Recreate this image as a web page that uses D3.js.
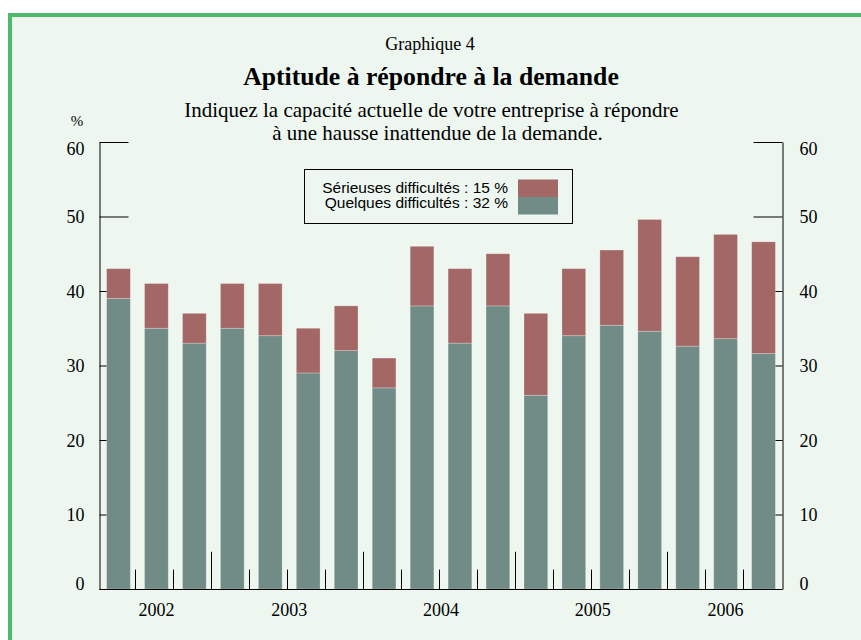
<!DOCTYPE html>
<html>
<head>
<meta charset="utf-8">
<script src="https://cdn.jsdelivr.net/npm/d3@7"></script>
<style>
  body { margin: 0; background: #ffffff; }
</style>
</head>
<body>
<svg id="chart"></svg>
<script>
// trimestres, de 2002T2 a 2006T3
const quarters = ["2002T2","2002T3","2002T4",
                  "2003T1","2003T2","2003T3","2003T4",
                  "2004T1","2004T2","2004T3","2004T4",
                  "2005T1","2005T2","2005T3","2005T4",
                  "2006T1","2006T2","2006T3"];
const quelques  = [39, 35, 33, 35, 34, 29, 32, 27, 38, 33, 38, 26, 34, 35.4, 34.6, 32.6, 33.6, 31.6];
const serieuses = [ 4,  6,  4,  6,  7,  6,  6,  4,  8, 10,  7, 11,  9, 10.1, 15,   12,   14,   15];
const years = ["2002","2003","2004","2005","2006"];
const yTicks = [0, 10, 20, 30, 40, 50, 60];
const legendLabels = ["Sérieuses difficultés : 15 %", "Quelques difficultés : 32 %"];

const colRed = "#a36866";
const colTeal = "#718b87";

const width = 861, height = 640;

const svg = d3.select("#chart")
    .attr("width", width)
    .attr("height", height);

// cadre vert
svg.append("rect")
    .attr("x", 10).attr("y", 15)
    .attr("width", 900).attr("height", 700)
    .attr("fill", "#edf7f0")
    .attr("stroke", "#4dba6b")
    .attr("stroke-width", 4);

const x = d3.scaleBand()
    .domain(quarters)
    .range([99.5, 782.5])
    .paddingInner(0.375)
    .paddingOuter(0.1875);

const y = d3.scaleLinear()
    .domain([0, 60])
    .range([589, 142]);

// titres
const serif = "'Liberation Serif', 'Times New Roman', serif";
svg.append("text").attr("x", 430).attr("y", 50)
    .attr("text-anchor", "middle").attr("font-family", serif).attr("font-size", 18)
    .text("Graphique 4");
svg.append("text").attr("x", 431).attr("y", 85)
    .attr("text-anchor", "middle").attr("font-family", serif).attr("font-size", 25.7)
    .attr("font-weight", "bold")
    .text("Aptitude à répondre à la demande");
svg.append("text").attr("x", 431.5).attr("y", 116.5)
    .attr("text-anchor", "middle").attr("font-family", serif).attr("font-size", 21)
    .text("Indiquez la capacité actuelle de votre entreprise à répondre");
svg.append("text").attr("x", 437.5).attr("y", 139.5)
    .attr("text-anchor", "middle").attr("font-family", serif).attr("font-size", 21)
    .text("à une hausse inattendue de la demande.");
svg.append("text").attr("x", 77).attr("y", 126)
    .attr("text-anchor", "middle").attr("font-family", serif).attr("font-size", 15)
    .text("%");

// axes verticaux
function styleAxis(g) {
    g.attr("font-family", serif).attr("font-size", 18);
    g.selectAll("text").attr("fill", "#000")
        .attr("dy", d => d === 60 ? "0.68em" : (d === 0 ? "0em" : "0.34em"));
    g.selectAll("line").attr("stroke", "#000");
    g.select(".domain").attr("stroke", "#000");
}

svg.append("g")
    .attr("transform", "translate(99.5,0)")
    .call(d3.axisLeft(y).tickValues(yTicks).tickSize(-29).tickSizeOuter(0).tickPadding(15))
    .call(styleAxis);

svg.append("g")
    .attr("transform", "translate(782.5,0)")
    .call(d3.axisRight(y).tickValues(yTicks).tickSize(-29).tickSizeOuter(0).tickPadding(17))
    .call(styleAxis);

// barres empilees
const stackData = quarters.map((q, i) => ({q: q, quelques: quelques[i], serieuses: serieuses[i]}));
const series = d3.stack().keys(["quelques", "serieuses"])(stackData);
const colors = {quelques: colTeal, serieuses: colRed};

svg.append("g")
    .selectAll("g")
    .data(series)
    .join("g")
    .attr("fill", d => colors[d.key])
    .selectAll("rect")
    .data(d => d)
    .join("rect")
    .attr("x", d => x(d.data.q))
    .attr("y", d => y(d[1]))
    .attr("width", x.bandwidth())
    .attr("height", d => y(d[0]) - y(d[1]))
    .attr("stroke", "#ffffff")
    .attr("stroke-opacity", 0.3)
    .attr("stroke-width", 0.8);

// axe horizontal
svg.append("line")
    .attr("x1", 99.5).attr("x2", 782.5)
    .attr("y1", y(0) + 0.5).attr("y2", y(0) + 0.5)
    .attr("stroke", "#000");

// graduations trimestrielles et annuelles
const boundaries = quarters.slice(1);
svg.append("g")
    .selectAll("line")
    .data(boundaries)
    .join("line")
    .attr("x1", d => Math.round(x(d) - x.step() * x.paddingInner() / 2) - 1.5)
    .attr("x2", d => Math.round(x(d) - x.step() * x.paddingInner() / 2) - 1.5)
    .attr("y1", y(0))
    .attr("y2", d => d.endsWith("T1") ? y(5) : y(2.6))
    .attr("stroke", "#000");

svg.append("g")
    .selectAll("text")
    .data(years)
    .join("text")
    .attr("x", yr => d3.mean(quarters.filter(q => q.startsWith(yr)), q => x(q) + x.bandwidth() / 2))
    .attr("y", 616)
    .attr("text-anchor", "middle")
    .attr("font-family", serif)
    .attr("font-size", 18)
    .text(d => d);

// legende
const legend = svg.append("g");
legend.append("rect")
    .attr("x", 304.5).attr("y", 169.5)
    .attr("width", 268).attr("height", 54)
    .attr("fill", "none").attr("stroke", "#000");
const legendColors = [colRed, colTeal];
legend.selectAll("text")
    .data(legendLabels)
    .join("text")
    .attr("x", 508)
    .attr("y", (d, i) => 192.5 + i * 15.5)
    .attr("text-anchor", "end")
    .attr("font-family", "'Liberation Sans', Arial, sans-serif")
    .attr("font-size", 15.5)
    .text(d => d);
legend.selectAll("rect.sw")
    .data(legendColors)
    .join("rect")
    .attr("class", "sw")
    .attr("x", 518).attr("width", 40)
    .attr("y", (d, i) => 179.5 + i * 17.5)
    .attr("height", 17.5)
    .attr("fill", d => d);
</script>
</body>
</html>
